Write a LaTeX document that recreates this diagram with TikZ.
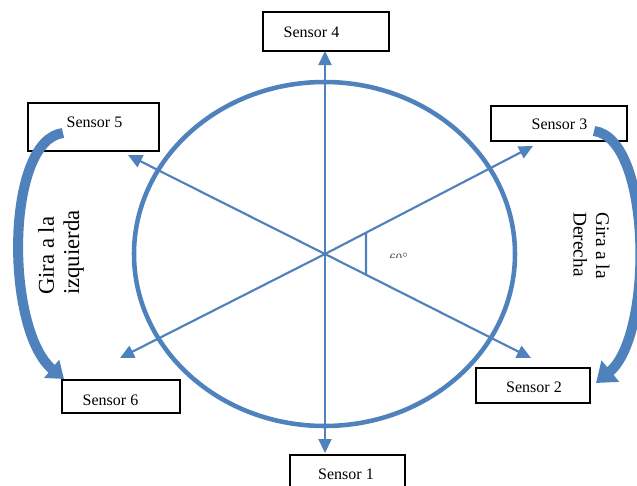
\documentclass[tikz,border=0pt]{standalone}
\usepackage{fontspec}
\setmainfont{Liberation Serif}
\usetikzlibrary{arrows.meta,calc}
\definecolor{wblue}{RGB}{79,129,189}
\definecolor{dgray}{RGB}{64,64,64}
\begin{document}
\begin{tikzpicture}[x=0.75pt,y=-0.75pt,
  sbox/.style={draw=black,line width=1.1pt,inner sep=0pt,fill=white},
  stext/.style={font=\fontsize{12}{14}\selectfont,inner sep=0pt},
  spoke/.style={draw=wblue,line width=1.6pt,-{Triangle[width=9.75pt,length=10.5pt]}},
  rim/.style={draw=wblue,line width=3.4pt},
  turnarrow/.style={draw=wblue,line width=7.5pt,-{Triangle[width=20pt,length=14pt]}},
  lbl/.style={inner sep=0pt,align=left}]
\useasboundingbox (0,0) rectangle (637,486);
\clip (0,0) rectangle (637,486);
\fill[white] (0,0) rectangle (637,486);

% centre and spoke ends
\coordinate (c) at (325,254);
\coordinate (p4) at (325,51);
\coordinate (p1) at (325,453);
\coordinate (p3) at (533,146);
\coordinate (p2) at (531,358);
\coordinate (p5) at (128,155);
\coordinate (p6) at (120,358);

% rim
\draw[rim] (324.5,254) ellipse [x radius=190.5, y radius=172];

% spokes
\draw[spoke] (c) -- (p4);
\draw[spoke] (c) -- (p1);
\draw[spoke] (c) -- (p3);
\draw[spoke] (c) -- (p2);
\draw[spoke] (c) -- (p5);
\draw[spoke] (c) -- (p6);

% angle mark
\coordinate (a1) at ($(c)!0.197!(p3)$);
\coordinate (a2) at ($(c)!0.199!(p2)$);
\draw[draw=wblue,line width=1.6pt] (a1) -- (a2);
\begin{scope}
  \clip (380,240) rectangle (420,257);
  \node[inner sep=0pt,text=dgray,font=\fontsize{9.5}{11}\selectfont] (ang) at (399,258.3) {60$^\circ$};
\end{scope}

% sensor boxes
\node[sbox,minimum width=94.5pt,minimum height=29.25pt] (s4) at (326,31.5) {};
\node[stext] (t4) at (311.5,32) {Sensor 4};
\node[sbox,minimum width=86.25pt,minimum height=33.75pt] (s1) at (347.5,477.5) {};
\node[stext] (t1) at (346,474.5) {Sensor 1};
\node[sbox,minimum width=98.25pt,minimum height=36pt] (s5) at (93.5,127) {};
\node[stext] (t5) at (94.5,122) {Sensor 5};
\node[sbox,minimum width=88.5pt,minimum height=24.75pt] (s6) at (121,396.5) {};
\node[stext] (t6) at (110.5,400) {Sensor 6};
\node[sbox,minimum width=102pt,minimum height=26.25pt] (s3) at (559,123.5) {};
\node[stext] (t3) at (559.5,124.5) {Sensor 3};
\node[sbox,minimum width=85.5pt,minimum height=26.25pt] (s2) at (533,385.5) {};
\node[stext] (t2) at (534,387.5) {Sensor 2};

% turning arrows
\coordinate (r0) at (594,131);
\coordinate (r1) at (596,383);
\draw[turnarrow] (r0) .. controls (652,138) and (654,335) .. (r1);
\coordinate (l0) at (63,133);
\coordinate (l1) at (64,379);
\draw[turnarrow,-{Triangle[width=17pt,length=12pt]}] (l0) .. controls (5,140) and (5,330) .. (l1);

% labels
\node[lbl,rotate=90,anchor=west,font=\fontsize{17}{19}\selectfont] (gl) at (61,295) {Gira a la\\izquierda};
\node[lbl,rotate=-90,anchor=west,font=\fontsize{14.5}{17}\selectfont] (gr) at (591.5,212) {Gira a la\\Derecha};
\end{tikzpicture}
\end{document}
